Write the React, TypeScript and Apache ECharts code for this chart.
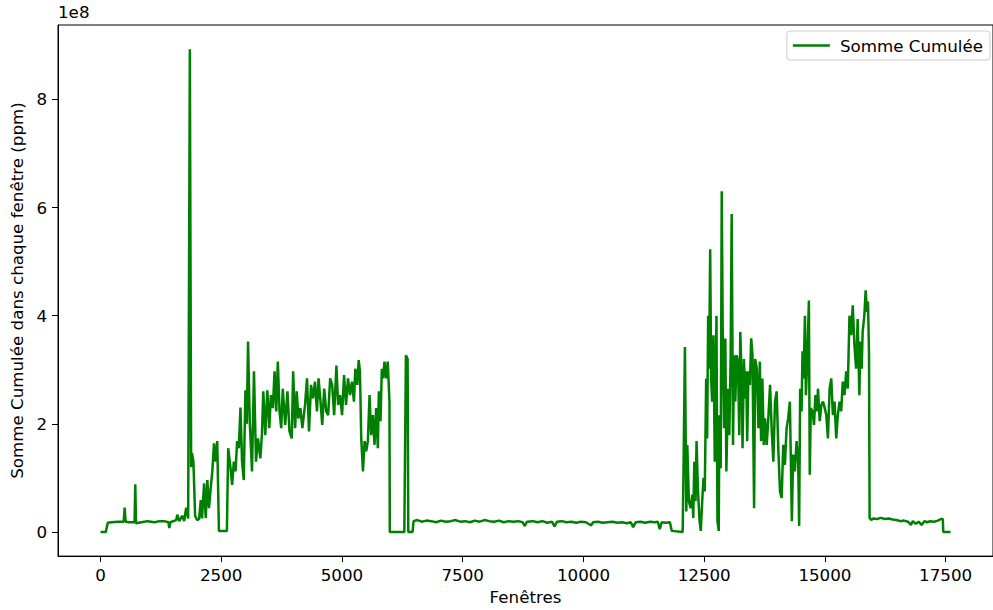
import React, { useEffect, useRef } from "react";
import * as echarts from "echarts";

// Fenêtres (x) and Somme Cumulée (y, in units of 1e8 ppm), by segment
const segStartX = [0, 110, 150, 230, 355, 480, 500, 520, 600, 705, 720, 735, 850, 970, 1115, 1220, 1320, 1405, 1425, 1445, 1568, 1590, 1630, 1692, 1733, 1774, 1815, 1850, 1877, 1892, 1924, 1959, 2000, 2042, 2076, 2103, 2145, 2179, 2212, 2247, 2282, 2315, 2350, 2384, 2417, 2442, 2452, 2617, 2644, 2693, 2726, 2761, 2796, 2829, 2864];
const segStartY = [0, 0, 0.17, 0.18, 0.19, 0.19, 0.45, 0.19, 0.18, 0.18, 0.88, 0.16, 0.18, 0.2, 0.18, 0.2, 0.2, 0.18, 0.07, 0.18, 0.22, 0.32, 0.2, 0.3, 0.2, 0.45, 0.25, 8.93, 1.2, 1.46, 1.3, 0.3, 0.22, 0.24, 0.59, 0.25, 0.9, 0.26, 0.96, 0.44, 0.81, 1.12, 1.64, 1.3, 1.68, 0.5, 0.02, 0.02, 1.55, 1.18, 0.87, 1.3, 1.12, 1.68, 1.55];

const segPlateauX = [2898, 2931, 2966, 3001, 3029, 3055, 3090, 3137, 3178, 3220, 3261, 3310, 3343, 3371, 3412, 3454, 3495, 3528, 3569, 3604, 3639, 3672, 3707, 3742, 3774, 3824, 3871, 3913, 3960, 3989, 4030, 4063, 4097, 4139, 4180, 4235, 4276, 4317, 4359, 4400, 4441, 4482, 4515, 4556, 4591, 4632, 4673, 4714, 4755, 4797, 4838, 4885, 4920, 4961, 5002, 5043, 5084, 5125, 5166, 5207, 5248, 5276, 5317, 5346, 5372, 5399, 5434, 5469, 5502, 5536, 5571, 5604, 5639, 5674, 5708, 5743, 5763, 5798, 5825, 5852, 5880, 5913, 5948, 5983, 5990, 6291, 6324, 6359, 6373, 6462];
const segPlateauY = [2.3, 1.3, 0.96, 2.62, 2.0, 3.52, 2.05, 1.12, 2.97, 1.3, 1.73, 1.36, 1.82, 2.6, 1.79, 2.62, 1.92, 2.53, 2.29, 2.97, 2.23, 3.15, 2.23, 1.92, 2.65, 1.98, 2.6, 1.86, 1.73, 2.97, 1.92, 2.6, 2.1, 2.29, 1.92, 2.35, 2.84, 1.86, 2.72, 2.47, 2.78, 2.23, 2.84, 2.41, 1.98, 2.65, 2.23, 2.16, 2.84, 2.72, 2.16, 3.08, 2.35, 2.53, 2.16, 2.9, 2.35, 2.84, 2.53, 2.78, 2.41, 3.02, 2.72, 3.18, 2.97, 1.73, 1.12, 1.68, 1.49, 1.68, 2.53, 1.79, 2.16, 1.61, 2.29, 1.55, 2.6, 2.05, 3.02, 2.84, 3.15, 2.84, 3.15, 2.41, 0, 0, 3.27, 3.2, 0, 0];

const segFlatX = [6482, 6560, 6650, 6750, 6850, 6950, 7050, 7150, 7250, 7350, 7450, 7550, 7650, 7750, 7850, 7950, 8050, 8150, 8250, 8350, 8450, 8550, 8650, 8740, 8785, 8830, 8950, 9050, 9150, 9250, 9350, 9400, 9450, 9550, 9650, 9750, 9850, 9950, 10050, 10160, 10200, 10300, 10400, 10500, 10600, 10700, 10800, 10900, 10980, 11030, 11080, 11180, 11280, 11380, 11480, 11540, 11580, 11620, 11700, 11790, 11828];
const segFlatY = [0.2, 0.22, 0.19, 0.21, 0.2, 0.18, 0.21, 0.19, 0.2, 0.22, 0.19, 0.2, 0.18, 0.21, 0.19, 0.22, 0.2, 0.19, 0.21, 0.18, 0.2, 0.19, 0.2, 0.18, 0.11, 0.19, 0.2, 0.18, 0.2, 0.17, 0.19, 0.1, 0.19, 0.2, 0.18, 0.19, 0.17, 0.19, 0.18, 0.12, 0.18, 0.19, 0.17, 0.18, 0.19, 0.17, 0.18, 0.16, 0.18, 0.09, 0.18, 0.19, 0.17, 0.19, 0.18, 0.19, 0.05, 0.18, 0.17, 0.18, 0.02];

const segBurstX = [12054, 12068, 12101, 12130, 12150, 12183, 12218, 12254, 12274, 12295, 12321, 12342, 12369, 12404, 12430, 12459, 12486, 12512, 12541, 12561, 12582, 12602, 12624, 12644, 12665, 12692, 12719, 12733, 12754, 12774, 12801, 12815, 12842, 12863, 12883, 12912, 12938, 12959, 12994, 13020, 13048, 13069, 13097, 13118, 13144, 13171, 13200, 13226, 13247, 13274, 13294, 13323, 13349, 13370, 13390, 13417, 13446, 13473, 13500, 13533, 13555, 13590, 13623, 13652, 13678, 13705, 13734, 13760, 13795, 13828, 13864, 13899, 13932, 13966, 14001, 14034, 14069, 14104, 14137, 14171, 14206, 14239, 14274, 14294, 14315, 14342, 14378, 14413, 14446, 14466, 14487, 14516, 14536, 14557, 14586, 14606, 14633, 14668, 14686, 14707, 14741, 14774, 14803, 14836, 14856, 14892, 14927, 14960, 14994, 15029, 15062, 15097, 15131, 15165, 15199, 15234, 15267, 15302, 15336, 15370, 15406, 15440, 15473, 15508, 15543, 15576, 15611, 15646, 15678, 15713, 15734, 15761, 15781, 15816, 15843, 15872, 15892, 15913, 15925];
const segBurstY = [0, 0.87, 3.42, 0.38, 1.61, 0.57, 0.44, 0.69, 0.26, 1.3, 0.57, 1.68, 0.81, 0.2, 0.02, 0.57, 1.0, 0.75, 2.84, 1.73, 4.0, 3.02, 5.23, 2.84, 2.41, 3.64, 1.3, 2.29, 4.0, 0.2, 0.02, 2.16, 1.18, 6.3, 3.76, 1.92, 3.58, 1.12, 2.65, 1.79, 3.27, 5.88, 1.61, 3.27, 2.41, 3.27, 3.15, 1.79, 3.7, 2.9, 1.55, 3.2, 2.47, 2.97, 1.68, 2.97, 2.72, 3.58, 3.27, 0.44, 3.2, 3.02, 1.92, 3.15, 1.68, 2.84, 1.61, 2.1, 1.61, 2.1, 2.72, 1.86, 1.3, 2.41, 2.6, 1.55, 0.75, 0.63, 1.61, 1.24, 1.92, 2.1, 2.41, 1.36, 0.2, 1.43, 1.12, 1.68, 1.3, 0.11, 2.65, 2.23, 3.34, 2.84, 4.0, 2.53, 3.15, 4.28, 1.06, 2.29, 2.23, 1.98, 2.53, 2.23, 2.65, 2.05, 2.35, 2.41, 2.3, 2.16, 1.73, 2.65, 2.84, 2.16, 2.41, 1.73, 2.16, 2.41, 2.23, 2.78, 2.53, 2.97, 2.65, 4.0, 3.64, 4.19, 3.45, 3.02, 3.94, 2.53, 3.52, 3.02, 3.7, 4.0, 4.47, 4.07, 4.26, 3.27, 0.26];

const segEndX = [15960, 16000, 16080, 16160, 16240, 16320, 16400, 16480, 16560, 16640, 16720, 16780, 16820, 16880, 16940, 17000, 17060, 17120, 17180, 17260, 17340, 17400, 17440, 17450, 17600];
const segEndY = [0.22, 0.25, 0.24, 0.26, 0.24, 0.25, 0.23, 0.22, 0.2, 0.21, 0.19, 0.13, 0.2, 0.15, 0.19, 0.13, 0.2, 0.18, 0.2, 0.19, 0.21, 0.24, 0.24, 0, 0];

const xTicks = [0, 2500, 5000, 7500, 10000, 12500, 15000, 17500];
const yTicks = [0, 2, 4, 6, 8];

const seriesName = "Somme Cumulée";
const xName = "Fenêtres";
const yName = "Somme Cumulée dans chaque fenêtre (ppm)";
const exponentLabel = "1e8";

export default function App() {
  const ref = useRef<HTMLDivElement>(null);

  useEffect(() => {
    if (!ref.current) return;
    const chart = echarts.init(ref.current, null, { renderer: "svg" });
    const xs = [...segStartX, ...segPlateauX, ...segFlatX, ...segBurstX, ...segEndX];
    const ys = [...segStartY, ...segPlateauY, ...segFlatY, ...segBurstY, ...segEndY];
    const data = xs.map((x, i) => [x, ys[i]]);
    const font = "DejaVu Sans";
    const fs = 16.7;
    const green = "#008000";

    chart.setOption({
      animation: false,
      backgroundColor: "#ffffff",
      textStyle: { fontFamily: font, color: "#000" },
      grid: {
        left: 58,
        top: 25,
        width: 942,
        height: 533.3,
        show: true,
        borderColor: "#000",
        borderWidth: 1,
        backgroundColor: "transparent",
      },
      legend: {
        right: 3,
        top: 31,
        data: [{ name: seriesName, icon: "rect" }],
        itemWidth: 37,
        itemHeight: 2.5,
        padding: [6, 7, 6, 6],
        backgroundColor: "#fff",
        borderColor: "#cccccc",
        borderWidth: 1,
        borderRadius: 3,
        textStyle: { fontFamily: font, fontSize: fs, color: "#000", padding: [0, 0, 0, 5] },
      },
      graphic: [
        {
          type: "text",
          left: 58,
          top: 3,
          style: { text: exponentLabel, font: `${fs}px "${font}"`, fill: "#000" },
        },
      ],
      xAxis: {
        type: "value",
        min: -880,
        max: 18480,
        name: xName,
        nameLocation: "middle",
        nameGap: 30,
        nameTextStyle: { fontFamily: font, fontSize: fs, color: "#000" },
        axisLine: { show: true, onZero: false, lineStyle: { color: "#000", width: 1 } },
        axisTick: { show: true, length: 6, lineStyle: { color: "#000" }, customValues: xTicks },
        axisLabel: {
          fontFamily: font,
          fontSize: fs,
          color: "#000",
          margin: 10,
          customValues: xTicks,
          formatter: (v: number) => String(v),
        },
        splitLine: { show: false },
      },
      yAxis: {
        type: "value",
        min: -0.4465,
        max: 9.3765,
        name: yName,
        nameLocation: "middle",
        nameGap: 29,
        nameRotate: 90,
        nameTextStyle: { fontFamily: font, fontSize: fs, color: "#000" },
        axisLine: { show: true, onZero: false, lineStyle: { color: "#000", width: 1 } },
        axisTick: { show: true, length: 6, lineStyle: { color: "#000" }, customValues: yTicks },
        axisLabel: {
          fontFamily: font,
          fontSize: fs,
          color: "#000",
          margin: 11,
          customValues: yTicks,
          formatter: (v: number) => String(v),
        },
        splitLine: { show: false },
      },
      series: [
        {
          name: seriesName,
          type: "line",
          data,
          symbol: "none",
          showSymbol: false,
          lineStyle: { color: green, width: 2.5 },
          itemStyle: { color: green },
          clip: true,
        },
      ],
    });
    return () => chart.dispose();
  }, []);

  return (
    <div
      ref={ref}
      style={{ position: "fixed", left: 0, top: 0, width: 993, height: 610, background: "#fff" }}
    />
  );
}
